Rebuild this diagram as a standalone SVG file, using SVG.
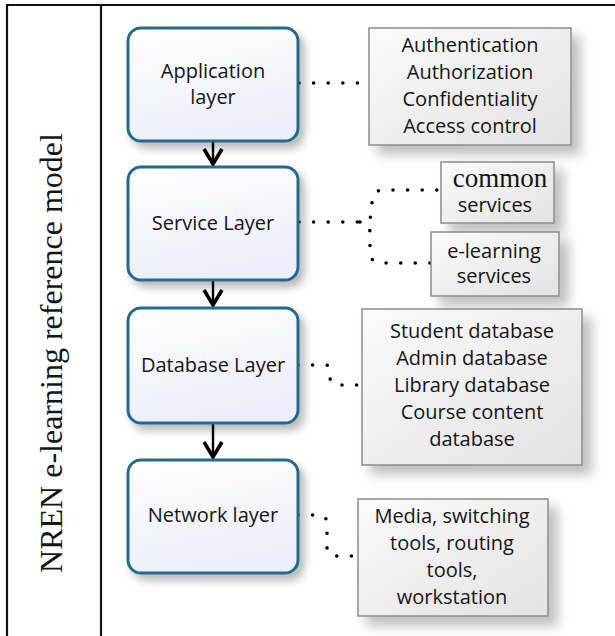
<svg xmlns="http://www.w3.org/2000/svg" width="615" height="636" viewBox="0 0 615 636">
<style>
.frame{fill:none;stroke:#111;stroke-width:2.2}
.node rect{fill:url(#ng);stroke:#25698f;stroke-width:3;filter:url(#ns)}
.note rect{fill:url(#bg);stroke:#8c8c8c;stroke-width:1.5;filter:url(#bs)}
.t{font-family:"Open Sans","Noto Sans",sans-serif;font-size:20px;fill:#151515;text-anchor:middle}
.serif{font-family:"Liberation Serif","Times New Roman",serif;fill:#151515}
.dot{fill:none;stroke:#000;stroke-width:3.6;stroke-linecap:round;stroke-dasharray:0 14.6}
.arr{fill:none;stroke:#000;stroke-width:2.4;marker-end:url(#ah)}
</style>
<defs>
<linearGradient id="ng" x1="0" y1="0" x2="0.3" y2="1">
<stop offset="0" stop-color="#ffffff"/><stop offset="1" stop-color="#eceef9"/>
</linearGradient>
<linearGradient id="bg" x1="0" y1="0" x2="1" y2="1">
<stop offset="0" stop-color="#fbfbfb"/><stop offset="1" stop-color="#e2e2e2"/>
</linearGradient>
<filter id="ns" x="-20%" y="-20%" width="150%" height="150%">
<feDropShadow dx="5" dy="6" stdDeviation="4" flood-color="#000" flood-opacity="0.28"/>
</filter>
<filter id="bs" x="-20%" y="-20%" width="150%" height="150%">
<feDropShadow dx="9" dy="9" stdDeviation="6" flood-color="#000" flood-opacity="0.25"/>
</filter>
<marker id="ah" markerUnits="userSpaceOnUse" markerWidth="24" markerHeight="26" viewBox="-20 -13 24 26" refX="0" refY="0" orient="auto">
<path d="M-15,-9 L0,0 L-15,9" fill="none" stroke="#000" stroke-width="3.6" stroke-linejoin="miter"/>
</marker>
</defs>
<rect width="615" height="636" fill="#fff"/>
<g id="frame">
<path class="frame" d="M7,636 V5 H616 M101,5 V636"/>
<text class="serif" font-size="32" transform="translate(62,353) rotate(-90)" text-anchor="middle">NREN e-learning reference model</text>
</g>
<g id="connectors">
<path class="arr" d="M213,141 V164"/>
<path class="arr" d="M213,280 V305"/>
<path class="arr" d="M213,423 V457"/>
<path class="dot" d="M299,83 H368"/>
<path class="dot" d="M299,222 H360 Q372,222 372,210 V200 Q373,190 384,190 H441"/>
<path class="dot" d="M360,222 Q370,222 370,234 V252 Q370,263 382,263 H431"/>
<path class="dot" d="M298,365 H326 Q330,365 330,372 V378 Q331,385 338,385 H362"/>
<path class="dot" d="M298,515 H318 Q327,515 327,524 V548 Q327,556 336,556 H358"/>
</g>
<g id="app" class="node">
<rect x="128" y="28" width="170" height="113" rx="13"/>
<text class="t" x="213" y="78">Application</text>
<text class="t" x="213" y="104">layer</text>
</g>
<g id="service" class="node">
<rect x="128" y="167" width="170" height="113" rx="13"/>
<text class="t" x="213" y="230">Service Layer</text>
</g>
<g id="database" class="node">
<rect x="128" y="308" width="170" height="115" rx="13"/>
<text class="t" x="213" y="372">Database Layer</text>
</g>
<g id="network" class="node">
<rect x="128" y="460" width="170" height="113" rx="13"/>
<text class="t" x="213" y="522">Network layer</text>
</g>
<g id="security" class="note">
<rect x="369" y="28" width="202" height="117"/>
<text class="t" x="470" y="52">Authentication</text>
<text class="t" x="470" y="79">Authorization</text>
<text class="t" x="470" y="106">Confidentiality</text>
<text class="t" x="470" y="133">Access control</text>
</g>
<g id="common" class="note">
<rect x="441" y="162" width="113" height="61"/>
<text class="serif" font-size="27" x="500" y="187" text-anchor="middle">common</text>
<text class="t" x="495" y="212">services</text>
</g>
<g id="elearning" class="note">
<rect x="431" y="232" width="128" height="64"/>
<text class="t" x="494" y="258">e-learning</text>
<text class="t" x="494" y="283">services</text>
</g>
<g id="databases" class="note">
<rect x="362" y="309" width="220" height="156"/>
<text class="t" x="472" y="338">Student database</text>
<text class="t" x="472" y="365">Admin database</text>
<text class="t" x="472" y="392">Library database</text>
<text class="t" x="472" y="419">Course content</text>
<text class="t" x="472" y="446">database</text>
</g>
<g id="tools" class="note">
<rect x="358" y="499" width="190" height="117"/>
<text class="t" x="452" y="523">Media, switching</text>
<text class="t" x="452" y="550">tools, routing</text>
<text class="t" x="452" y="577">tools,</text>
<text class="t" x="452" y="604">workstation</text>
</g>
</svg>
